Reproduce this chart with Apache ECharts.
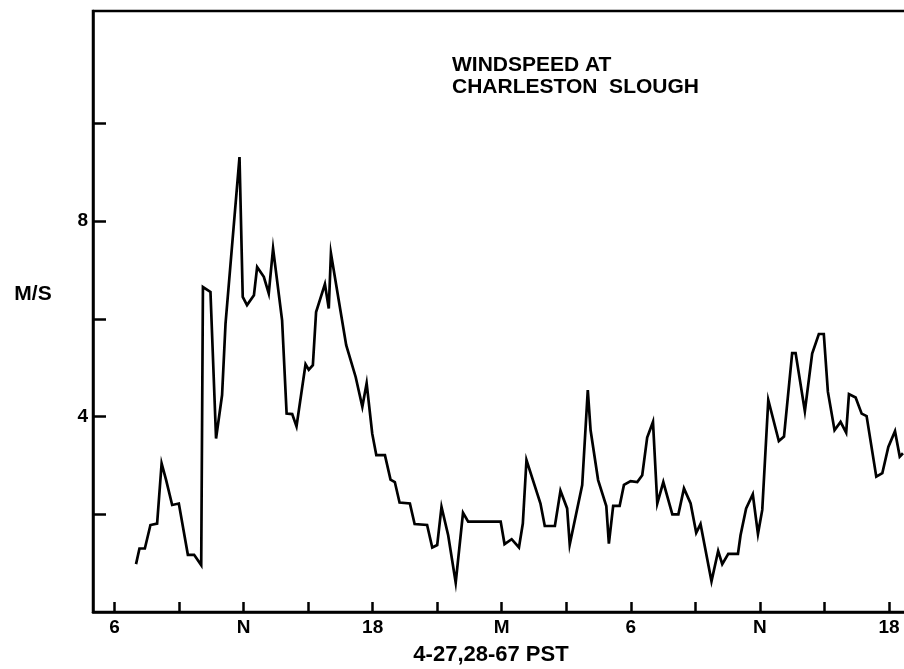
<!DOCTYPE html>
<html>
<head>
<meta charset="utf-8">
<script src="https://cdn.jsdelivr.net/npm/echarts@6/dist/echarts.min.js"></script>
<style>
html,body{margin:0;padding:0;background:#fff;overflow:hidden;width:904px;height:669px;}
#chart{width:944px;height:669px;}
</style>
</head>
<body>
<div id="chart"></div>
<script>
// Hours since midnight of 4-27 (24 = midnight, 30 = 6 AM on 4-28)
const hours = [7.00,7.16,7.41,7.67,7.98,8.19,8.40,8.68,8.99,9.41,9.70,10.03,10.11,10.46,10.72,11.00,11.16,11.81,11.96,12.16,12.48,12.63,12.94,13.17,13.37,13.79,14.00,14.26,14.46,14.88,15.03,15.22,15.37,15.78,15.96,16.06,16.77,17.21,17.52,17.72,17.98,18.17,18.57,18.83,19.03,19.25,19.73,19.95,20.53,20.77,21.00,21.20,21.51,21.86,22.20,22.44,23.95,24.13,24.46,24.80,24.98,25.15,25.80,26.00,26.47,26.73,27.04,27.16,27.74,28.00,28.13,28.48,28.86,28.98,29.18,29.48,29.68,29.99,30.30,30.53,30.76,31.03,31.23,31.51,31.93,32.21,32.47,32.78,33.04,33.24,33.75,34.06,34.25,34.53,34.98,35.10,35.36,35.67,35.91,36.11,36.39,36.88,37.12,37.50,37.66,38.09,38.43,38.74,38.97,39.16,39.47,39.75,40.01,40.14,40.45,40.73,40.96,41.41,41.69,41.97,42.28,42.50,42.65];
const speeds = [0.98,1.30,1.30,1.78,1.81,3.04,2.70,2.19,2.22,1.17,1.17,0.96,6.65,6.55,3.55,4.44,5.90,9.31,6.45,6.28,6.48,7.06,6.86,6.52,7.44,5.97,4.06,4.05,3.80,5.07,4.96,5.05,6.14,6.71,6.21,7.34,5.46,4.81,4.20,4.68,3.65,3.21,3.21,2.71,2.66,2.24,2.22,1.80,1.78,1.32,1.37,2.15,1.57,0.60,2.03,1.85,1.85,1.39,1.49,1.32,1.81,3.11,2.22,1.76,1.76,2.48,2.12,1.38,2.60,4.54,3.72,2.70,2.17,1.40,2.17,2.17,2.60,2.68,2.66,2.80,3.57,3.89,2.22,2.66,2.00,2.00,2.53,2.22,1.62,1.80,0.63,1.25,0.98,1.19,1.19,1.57,2.12,2.41,1.60,2.09,4.34,3.50,3.59,5.30,5.30,4.11,5.29,5.69,5.69,4.51,3.72,3.89,3.67,4.46,4.39,4.06,4.01,2.77,2.84,3.38,3.70,3.18,3.25];

const xTickHours = [6,9,12,15,18,21,24,27,30,33,36,39,42];
const xLabelHours = [6,12,18,24,30,36,42];
const xLabelTexts = ['6','N','18','M','6','N','18'];
const yTickValues = [2,4,6,8,10];
const yLabelValues = [4,8];

const titleLines = ['WINDSPEED AT','CHARLESTON  SLOUGH'];
const xTitle = '4-27,28-67 PST';
const yTitle = 'M/S';

const FONT = '"Liberation Sans", Arial, sans-serif';
const chart = echarts.init(document.getElementById('chart'), null, {renderer:'canvas'});

chart.setOption({
  animation:false,
  backgroundColor:'#fff',
  grid:{left:93, top:11, right:12, bottom:57, show:true, borderColor:'#000', borderWidth:2.5, containLabel:false},
  xAxis:{
    type:'value', min:5, max:44,
    axisLine:{show:true, lineStyle:{color:'#000', width:2.5}},
    axisTick:{show:true, inside:true, length:10, lineStyle:{color:'#000', width:2.5}, customValues:xTickHours},
    axisLabel:{show:true, margin:6, color:'#000', fontFamily:FONT, fontSize:19, fontWeight:'bold',
      customValues:xLabelHours,
      formatter:function(v){ const i = xLabelHours.indexOf(Math.round(v)); return i>=0 ? xLabelTexts[i] : ''; }},
    splitLine:{show:false}
  },
  yAxis:{
    type:'value', min:0, max:12.3,
    axisLine:{show:true, lineStyle:{color:'#000', width:2.5}},
    axisTick:{show:true, inside:true, length:13, lineStyle:{color:'#000', width:2.5}, customValues:yTickValues},
    axisLabel:{show:true, margin:5, color:'#000', fontFamily:FONT, fontSize:19, fontWeight:'bold',
      customValues:yLabelValues, formatter:function(v){ return String(v); }},
    splitLine:{show:false}
  },
  graphic:[
    {type:'text', left:452, top:54, style:{text:titleLines.join('\n'), fill:'#000', font:'bold 21px '+FONT, lineHeight:22}},
    {type:'text', x:33, y:294, style:{text:yTitle, fill:'#000', font:'bold 21px '+FONT, align:'center', verticalAlign:'middle'}},
    {type:'text', x:491, y:655, style:{text:xTitle, fill:'#000', font:'bold 22px '+FONT, align:'center', verticalAlign:'middle'}}
  ],
  series:[{
    type:'line',
    data:hours.map(function(h,i){ return [h, speeds[i]]; }),
    showSymbol:false,
    lineStyle:{color:'#000', width:2.7, join:'miter'},
    silent:true
  }]
});
</script>
</body>
</html>
